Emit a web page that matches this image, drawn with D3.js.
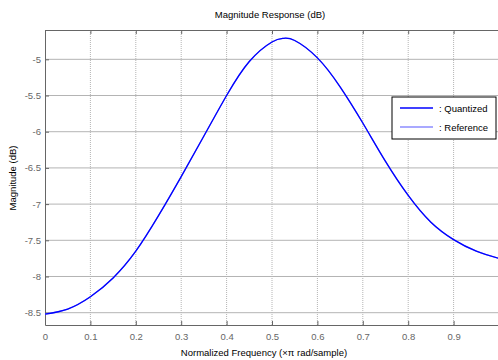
<!DOCTYPE html>
<html>
<head>
<meta charset="utf-8">
<script src="https://cdn.jsdelivr.net/npm/d3@7"></script>
<style>
  body { margin: 0; background: #fff; }
  svg text { font-family: "Liberation Sans", Arial, sans-serif; }
</style>
</head>
<body>
<div id="chart"></div>
<script>
const width = 498;
const height = 360;

// magnitude response (x in units of pi rad/sample, dB)
const freq = [0, 0.05, 0.1, 0.15, 0.2, 0.25, 0.3, 0.35, 0.4, 0.45, 0.5, 0.525, 0.55, 0.6, 0.65, 0.7, 0.75, 0.8, 0.85, 0.9, 0.95, 1.0];
const quantized = [-8.52, -8.45, -8.28, -8.02, -7.65, -7.16, -6.62, -6.06, -5.5, -5.03, -4.76, -4.71, -4.74, -4.98, -5.38, -5.88, -6.41, -6.88, -7.25, -7.49, -7.65, -7.75];
const reference = quantized.slice();
const xTicks = [0, 0.1, 0.2, 0.3, 0.4, 0.5, 0.6, 0.7, 0.8, 0.9];
const yTicks = [-5, -5.5, -6, -6.5, -7, -7.5, -8, -8.5];
const legendLabels = [': Quantized', ': Reference'];
const legendColors = ['#0000ff', '#8c8cff'];

const margin = {left: 45, top: 30, right: -1, bottom: 35};
const x = d3.scaleLinear().domain([0, 1]).range([margin.left, width - margin.right]);
const y = d3.scaleLinear().domain([-8.67, -4.595]).range([height - margin.bottom, margin.top]);

const svg = d3.select('#chart').append('svg')
  .attr('width', width)
  .attr('height', height);

// grid
svg.append('g').selectAll('line').data(xTicks.slice(1))
  .enter().append('line')
  .attr('x1', d => x(d)).attr('x2', d => x(d))
  .attr('y1', y.range()[1]).attr('y2', y.range()[0])
  .attr('stroke', '#b4b4b4').attr('stroke-dasharray', '1,1');
svg.append('g').selectAll('line').data(yTicks)
  .enter().append('line')
  .attr('x1', x.range()[0]).attr('x2', x.range()[1])
  .attr('y1', d => y(d)).attr('y2', d => y(d))
  .attr('stroke', '#b4b4b4');

// axes
const fmt = d => String(d);
const xAxis = svg.append('g')
  .attr('transform', `translate(0,${y.range()[0]})`)
  .call(d3.axisBottom(x).tickValues(xTicks).tickFormat(fmt).tickSizeInner(-4).tickSizeOuter(0).tickPadding(8));
const yAxis = svg.append('g')
  .attr('transform', `translate(${x.range()[0]},0)`)
  .call(d3.axisLeft(y).tickValues(yTicks).tickFormat(fmt).tickSizeInner(-4).tickSizeOuter(0).tickPadding(4));
svg.append('g')
  .attr('transform', `translate(0,${y.range()[1]})`)
  .call(d3.axisTop(x).tickValues(xTicks).tickFormat('').tickSizeInner(-4).tickSizeOuter(0));

[xAxis, yAxis].forEach(g => {
  g.selectAll('text').attr('fill', '#666').style('font-size', '9.5px');
});
svg.selectAll('.domain').attr('stroke', '#666');
svg.selectAll('.tick line').attr('stroke', '#666');

// curves
const line = d3.line().x((d, i) => x(freq[i])).y(d => y(d)).curve(d3.curveNatural);
svg.append('path').datum(reference)
  .attr('d', line).attr('fill', 'none')
  .attr('stroke', legendColors[1]).attr('stroke-width', 1.3);
svg.append('path').datum(quantized)
  .attr('d', line).attr('fill', 'none')
  .attr('stroke', legendColors[0]).attr('stroke-width', 1.3);

// titles
svg.append('text')
  .attr('x', 270).attr('y', 18)
  .attr('text-anchor', 'middle')
  .style('font-size', '9.5px')
  .text('Magnitude Response (dB)');
svg.append('text')
  .attr('x', 264).attr('y', 356)
  .attr('text-anchor', 'middle')
  .style('font-size', '9.5px')
  .text('Normalized Frequency (\u00d7\u03c0 rad/sample)');
svg.append('text')
  .attr('transform', 'translate(16,178) rotate(-90)')
  .attr('text-anchor', 'middle')
  .style('font-size', '9.5px')
  .text('Magnitude (dB)');

// legend
const legend = svg.append('g').attr('transform', 'translate(392,97)');
legend.append('rect')
  .attr('width', 104).attr('height', 42)
  .attr('fill', '#fff').attr('stroke', '#000');
legendLabels.forEach((label, i) => {
  legend.append('line')
    .attr('x1', 8).attr('x2', 41)
    .attr('y1', 11 + i * 19).attr('y2', 11 + i * 19)
    .attr('stroke', legendColors[i]).attr('stroke-width', 1.3);
  legend.append('text')
    .attr('x', 47).attr('y', 15 + i * 19)
    .style('font-size', '9.5px')
    .text(label);
});
</script>
</body>
</html>
